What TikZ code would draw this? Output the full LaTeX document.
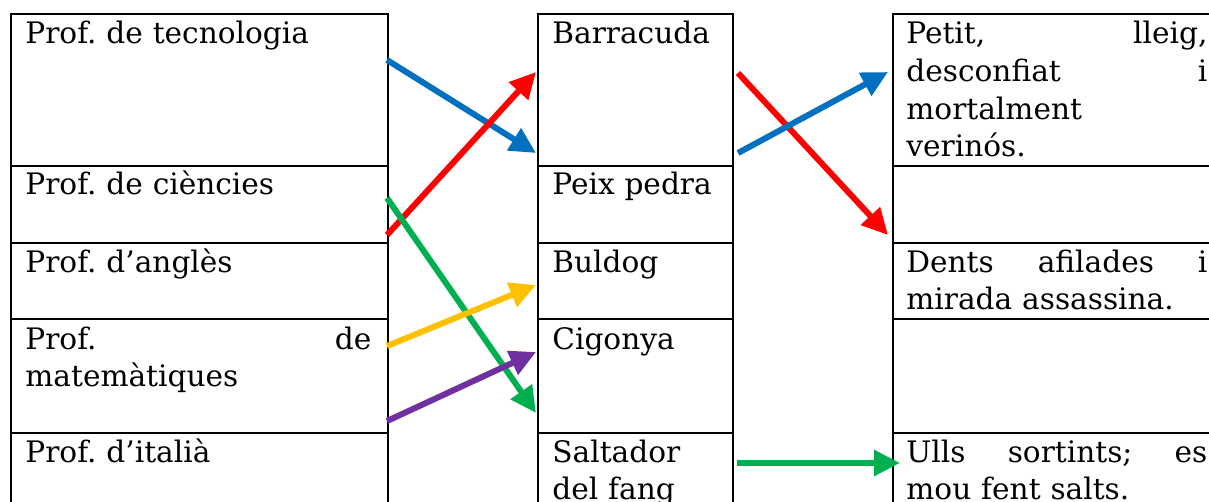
\documentclass[tikz,border=0pt]{standalone}
\usepackage{fontspec}
\setmainfont{DejaVu Serif}
\frenchspacing
\usetikzlibrary{arrows.meta}
\definecolor{oblue}{HTML}{0070C0}
\definecolor{ored}{HTML}{FF0000}
\definecolor{ogreen}{HTML}{00B050}
\definecolor{oyellow}{HTML}{FFC000}
\definecolor{opurple}{HTML}{7030A0}
\tikzset{
  cellbox/.style={draw=black, line width=1pt, anchor=north west, inner sep=0pt},
  celltext/.style={anchor=base west, inner sep=0pt, align=left,
    font=\fontsize{14.8pt}{18.8pt}\selectfont\frenchspacing},
  conn/.style={line width=3pt, -{Triangle[length=13pt,width=12.5pt]}}
}
\begin{document}
\begin{tikzpicture}[x=0.5pt,y=-0.5pt]
\useasboundingbox (0,0) rectangle (1209,502);
\clip (0,0) rectangle (1209,502);
% left column
\node[cellbox, minimum width=188.5pt, minimum height=76pt] (L1) at (10,13) {};
\node[cellbox, minimum width=188.5pt, minimum height=38.5pt] (L2) at (10,165) {};
\node[cellbox, minimum width=188.5pt, minimum height=38pt] (L3) at (10,242) {};
\node[cellbox, minimum width=188.5pt, minimum height=57pt] (L4) at (10,318) {};
\node[cellbox, minimum width=188.5pt, minimum height=60pt] (L5) at (10,432) {};
% middle column
\node[cellbox, minimum width=97.5pt, minimum height=76pt] (M1) at (537,13) {};
\node[cellbox, minimum width=97.5pt, minimum height=38.5pt] (M2) at (537,165) {};
\node[cellbox, minimum width=97.5pt, minimum height=38pt] (M3) at (537,242) {};
\node[cellbox, minimum width=97.5pt, minimum height=57pt] (M4) at (537,318) {};
\node[cellbox, minimum width=97.5pt, minimum height=60pt] (M5) at (537,432) {};
% right column
\node[cellbox, minimum width=200pt, minimum height=76pt] (R1) at (892,13) {};
\node[cellbox, minimum width=200pt, minimum height=38.5pt] (R2) at (892,165) {};
\node[cellbox, minimum width=200pt, minimum height=38pt] (R3) at (892,242) {};
\node[cellbox, minimum width=200pt, minimum height=57pt] (R4) at (892,318) {};
\node[cellbox, minimum width=200pt, minimum height=60pt] (R5) at (892,432) {};
% texts
\node[celltext, text width=173pt] (tL1) at (25,44) {Prof. de tecnologia};
\node[celltext, text width=173pt] (tL2) at (25,195) {Prof. de ciències};
\node[celltext, text width=173pt] (tL3) at (25,272) {Prof. d’anglès};
\node[celltext, text width=173pt] (tL4) at (25,349) {Prof.\hfill de\\matemàtiques};
\node[celltext, text width=173pt] (tL5) at (25,462) {Prof. d’italià};
\node[celltext, text width=88pt] (tM1) at (552,44) {Barracuda};
\node[celltext, text width=88pt] (tM2) at (552,195) {Peix pedra};
\node[celltext, text width=88pt] (tM3) at (552,272) {Buldog};
\node[celltext, text width=88pt] (tM4) at (552,349) {Cigonya};
\node[celltext, text width=88pt] (tM5) at (552,462) {Saltador\\del fang};
\node[celltext, text width=150.5pt] (tR1) at (906,44) {Petit,\hfill lleig,\\desconfiat\hfill i\\mortalment\\verinós.};
\node[celltext, text width=150.5pt] (tR3) at (906,272) {Dents\hfill afilades\hfill i\\mirada assassina.};
\node[celltext, text width=150.5pt] (tR5) at (906,462) {Ulls\hfill sortints;\hfill es\\mou fent salts.};
% connector end points
\coordinate (a1) at (387,60);  \coordinate (b1) at (536,153);
\coordinate (a2) at (387,235); \coordinate (b2) at (536,72);
\coordinate (a3) at (387,198); \coordinate (b3) at (536,413);
\coordinate (a4) at (387,346); \coordinate (b4) at (536,285);
\coordinate (a5) at (387,421); \coordinate (b5) at (536,352);
\coordinate (c1) at (738,73);  \coordinate (d1) at (888,235);
\coordinate (c2) at (738,153); \coordinate (d2) at (888,72);
\coordinate (c3) at (737,463); \coordinate (d3) at (900,463);
% connectors
\draw[conn, oblue] (a1) -- (b1);
\draw[conn, ored] (a2) -- (b2);
\draw[conn, ogreen] (a3) -- (b3);
\draw[conn, oyellow] (a4) -- (b4);
\draw[conn, opurple] (a5) -- (b5);
\draw[conn, ored] (c1) -- (d1);
\draw[conn, oblue] (c2) -- (d2);
\draw[conn, ogreen] (c3) -- (d3);
\end{tikzpicture}
\end{document}
